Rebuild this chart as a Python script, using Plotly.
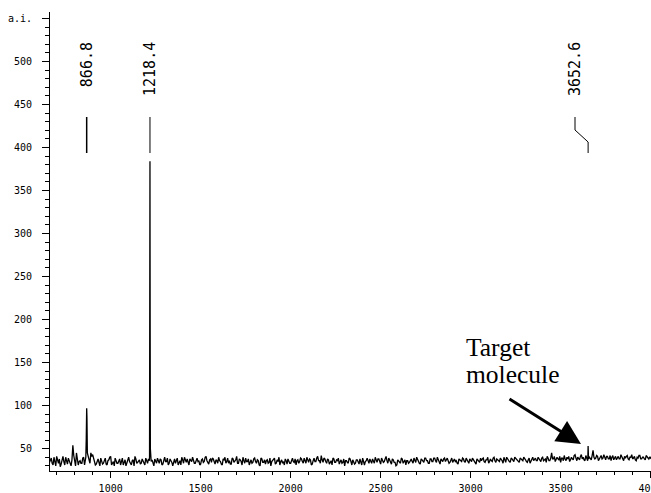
import numpy as np
import plotly.graph_objects as go

# ---------------- data ----------------
# baseline spectrum sampled every 10 m/z from 660 to 4010
baseline_start = 660
baseline_step = 10
baseline_int = [
    34, 39, 31, 36, 41, 33, 29, 37, 35, 40,
    32, 36, 30, 54, 33, 45, 31, 36, 33, 40,
    37, 44, 36, 45, 43, 35, 32, 38, 30, 36,
    33, 39, 31, 37, 41, 34, 30, 36, 33, 38,
    35, 31, 37, 33, 40, 32, 36, 30, 38, 34,
    37, 33, 36, 31, 35, 38, 33, 37, 30, 36,
    39, 33, 37, 32, 40, 35, 31, 38, 34, 36,
    33, 39, 35, 31, 37, 40, 34, 32, 38, 35,
    37, 33, 39, 36, 32, 38, 35, 41, 33, 37,
    34, 38, 32, 36, 40, 35, 31, 37, 33, 39,
    36, 32, 38, 35, 41, 33, 37, 31, 36, 39,
    35, 31, 37, 34, 39, 33, 36, 30, 38, 34,
    32, 37, 34, 30, 36, 39, 33, 35, 31, 37,
    35, 38, 32, 36, 33, 39, 34, 31, 37, 35,
    38, 33, 36, 40, 34, 37, 32, 39, 35, 41,
    36, 42, 34, 38, 33, 37, 35, 31, 38, 34,
    36, 32, 37, 34, 30, 36, 33, 38, 31, 35,
    33, 37, 32, 35, 39, 31, 36, 34, 38, 33,
    36, 40, 34, 38, 32, 37, 35, 41, 33, 36,
    32, 37, 34, 31, 36, 33, 38, 35, 31, 36,
    34, 38, 33, 36, 40, 35, 32, 37, 34, 39,
    36, 33, 38, 35, 39, 34, 37, 32, 36, 38,
    35, 39, 33, 37, 34, 38, 36, 32, 37, 35,
    38, 34, 37, 33, 36, 39, 35, 32, 37, 34,
    36, 39, 34, 37, 33, 38, 35, 40, 34, 37,
    35, 38, 33, 37, 40, 36, 34, 38, 35, 39,
    37, 34, 38, 36, 39, 35, 37, 33, 38, 36,
    39, 36, 38, 35, 40, 37, 34, 39, 36, 45,
    38, 35, 40, 37, 34, 39, 42, 36, 38, 35,
    40, 37, 43, 36, 39, 41, 38, 37, 42, 36,
    40, 37, 48, 38, 42, 36, 40, 38, 43, 37,
    41, 38, 36, 42, 39, 37, 41, 38, 40, 36,
    39, 42, 37, 40, 38, 41, 36, 39, 42, 38,
    40, 37, 41, 38, 39, 37,
]
# intermediate samples, 665 to 4005
baseline_mid_int = [
    37, 33, 40, 30, 35, 38, 32, 41, 31, 36,
    39, 34, 37, 42, 30, 38, 35, 33, 39, 31,
    36, 40, 33, 41, 38, 31, 36, 34, 39, 32,
    38, 32, 36, 40, 31, 35, 39, 33, 37, 31,
    39, 34, 30, 38, 35, 31, 37, 41, 33, 36,
    32, 38, 34, 39, 33, 36, 35, 31, 38, 33,
    34, 38, 31, 36, 35, 39, 33, 36, 30, 38,
    37, 31, 36, 40, 33, 35, 38, 31, 36, 40,
    33, 38, 35, 31, 37, 34, 40, 36, 32, 38,
    39, 35, 37, 33, 36, 32, 38, 40, 35, 33,
    32, 39, 34, 37, 33, 38, 35, 40, 33, 35,
    38, 36, 33, 38, 35, 37, 31, 39, 34, 37,
    36, 33, 39, 35, 38, 32, 37, 40, 35, 33,
    31, 36, 38, 33, 37, 35, 38, 36, 33, 39,
    35, 39, 33, 37, 38, 31, 36, 35, 39, 36,
    33, 37, 39, 35, 38, 32, 36, 39, 34, 37,
    39, 35, 33, 38, 36, 34, 39, 35, 37, 32,
    37, 34, 38, 31, 36, 35, 39, 33, 36, 38,
    33, 37, 38, 35, 39, 34, 38, 36, 39, 34,
    38, 34, 30, 37, 35, 39, 33, 37, 36, 33,
    37, 35, 39, 34, 37, 33, 38, 35, 39, 36,
    33, 38, 35, 39, 36, 40, 34, 38, 35, 39,
    38, 36, 34, 39, 36, 35, 33, 38, 35, 39,
    35, 39, 34, 38, 35, 37, 33, 38, 35, 39,
    38, 35, 37, 40, 35, 36, 39, 36, 38, 35,
    39, 36, 40, 34, 38, 35, 39, 36, 40, 37,
    35, 39, 36, 40, 37, 34, 39, 36, 40, 38,
    36, 40, 37, 39, 36, 38, 41, 36, 39, 38,
    41, 37, 38, 41, 39, 36, 38, 40, 41, 37,
    38, 42, 39, 40, 37, 43, 40, 36, 39, 38,
    38, 42, 40, 39, 41, 38, 42, 39, 40, 41,
    38, 42, 40, 37, 41, 39, 38, 43, 37, 41,
    41, 38, 40, 43, 39, 37, 40, 42, 38, 40,
    38, 42, 39, 40, 41,
]

# sharp peaks
peak_mz = [862, 864.5, 866.8, 868.3, 870.5, 1216, 1217.3, 1218.4, 1219.3, 1220.5, 3651, 3652.6, 3654]
peak_int = [40, 62, 97, 86, 45, 40, 143, 384, 208, 50, 38, 53, 39]

# labelled peaks
label_mz = [866.8, 1218.4, 3652.6]
label_text = ["866.8", "1218.4", "3652.6"]

x_ticks = [1000, 1500, 2000, 2500, 3000, 3500, 4000]
y_ticks = [50, 100, 150, 200, 250, 300, 350, 400, 450, 500, 550]
y_ticktext = ["50", "100", "150", "200", "250", "300", "350", "400", "450", "500", "a.i."]

annotation_lines = ["Target", "molecule"]

# ---------------- build spectrum ----------------
base_mz = baseline_start + baseline_step * np.arange(len(baseline_int))
mid_mz = baseline_start + baseline_step / 2 + baseline_step * np.arange(len(baseline_mid_int))
all_mz = np.concatenate([base_mz, mid_mz, np.array(peak_mz, dtype=float)])
all_int = np.concatenate([np.array(baseline_int, dtype=float),
                          np.array(baseline_mid_int, dtype=float),
                          np.array(peak_int, dtype=float)])
# drop grid samples that fall inside a sharp peak window
keep = np.ones(len(all_mz), dtype=bool)
n_grid = len(baseline_int) + len(baseline_mid_int)
for lo, hi in [(861, 871), (1215, 1221), (3650, 3655)]:
    inside = (all_mz[:n_grid] > lo) & (all_mz[:n_grid] < hi)
    keep[:n_grid][inside] = False
all_mz, all_int = all_mz[keep], all_int[keep]
order = np.argsort(all_mz, kind="stable")
mz = all_mz[order]
inten = all_int[order]

X_RANGE = [663, 4002]
Y_RANGE = [24, 557.5]
W, H = 651, 493
ML, MR, MT, MB = 50, 0, 12, 22


def px_to_y(py):
    ph = H - MT - MB
    return Y_RANGE[1] - (py - MT) / ph * (Y_RANGE[1] - Y_RANGE[0])


def px_to_x(px):
    pw = W - ML - MR
    return X_RANGE[0] + (px - ML) / pw * (X_RANGE[1] - X_RANGE[0])


fig = go.Figure()
fig.add_trace(go.Scatter(x=mz, y=inten, mode="lines",
                         line=dict(color="black", width=1.3),
                         hoverinfo="skip", showlegend=False))

tick_font = dict(family="DejaVu Sans Mono", size=10, color="black")

fig.update_layout(
    width=W, height=H,
    margin=dict(l=ML, r=MR, t=MT, b=MB, pad=0, autoexpand=False),
    paper_bgcolor="white", plot_bgcolor="white",
    showlegend=False,
    xaxis=dict(range=X_RANGE, tickmode="array", tickvals=x_ticks,
               ticks="outside", ticklen=6, tickwidth=1, tickcolor="black",
               showline=True, linecolor="black", linewidth=1,
               showgrid=False, zeroline=False, tickfont=tick_font,
               ticklabelstandoff=2, ticklabeloverflow="allow", automargin=False,
               minor=dict(tickmode="linear", tick0=0, dtick=100, ticks="outside",
                          ticklen=3, tickcolor="black", showgrid=False)),
    yaxis=dict(range=Y_RANGE, tickmode="array", tickvals=y_ticks, ticktext=y_ticktext,
               ticks="outside", ticklen=7, tickwidth=1, tickcolor="black",
               showline=True, linecolor="black", linewidth=1,
               showgrid=False, zeroline=False, tickfont=tick_font,
               ticklabelstandoff=8, ticklabeloverflow="allow", automargin=False,
               minor=dict(tickmode="linear", tick0=0, dtick=10, ticks="outside",
                          ticklen=4, tickcolor="black", showgrid=False)),
)

# peak labels and connector lines
label_top = px_to_y(40)
line_top = px_to_y(117)
bend1 = px_to_y(130)
bend2 = px_to_y(142)
line_bot = px_to_y(153)
label_x = [label_mz[0], label_mz[1], px_to_x(575)]
for lx, pmz, txt in zip(label_x, label_mz, label_text):
    fig.add_annotation(x=lx, y=label_top, xref="x", yref="y", text=txt,
                       textangle=-90, showarrow=False, xanchor="center", yanchor="top",
                       font=dict(family="DejaVu Sans Mono", size=15, color="black"))
    if lx == pmz:
        fig.add_shape(type="line", xref="x", yref="y", x0=lx, x1=lx, y0=line_bot, y1=line_top,
                      line=dict(color="black", width=1.5 if pmz < 1000 else 1))
    else:
        fig.add_shape(type="path", xref="x", yref="y",
                      path=f"M {lx},{line_top} L {lx},{bend1} L {pmz},{bend2} L {pmz},{line_bot}",
                      line=dict(color="black", width=1))

# "Target molecule" text and arrow
for txt, top_px in zip(annotation_lines, [331, 358]):
    fig.add_annotation(x=px_to_x(464), y=px_to_y(top_px), xref="x", yref="y",
                       text=txt, showarrow=False, align="left",
                       xanchor="left", yanchor="top",
                       font=dict(family="Liberation Serif", size=25.5, color="black"))
fig.add_annotation(x=px_to_x(581), y=px_to_y(444), xref="x", yref="y", text="",
                   showarrow=True, arrowhead=2, arrowsize=1.6, arrowwidth=3,
                   arrowcolor="black", ax=508 - 581, ay=398 - 444,
                   axref="pixel", ayref="pixel")

fig.write_html("out.html", config={"displayModeBar": False},
               post_script="document.body.style.margin='0';document.body.style.padding='0';"
                           "document.documentElement.style.overflow='hidden';")
